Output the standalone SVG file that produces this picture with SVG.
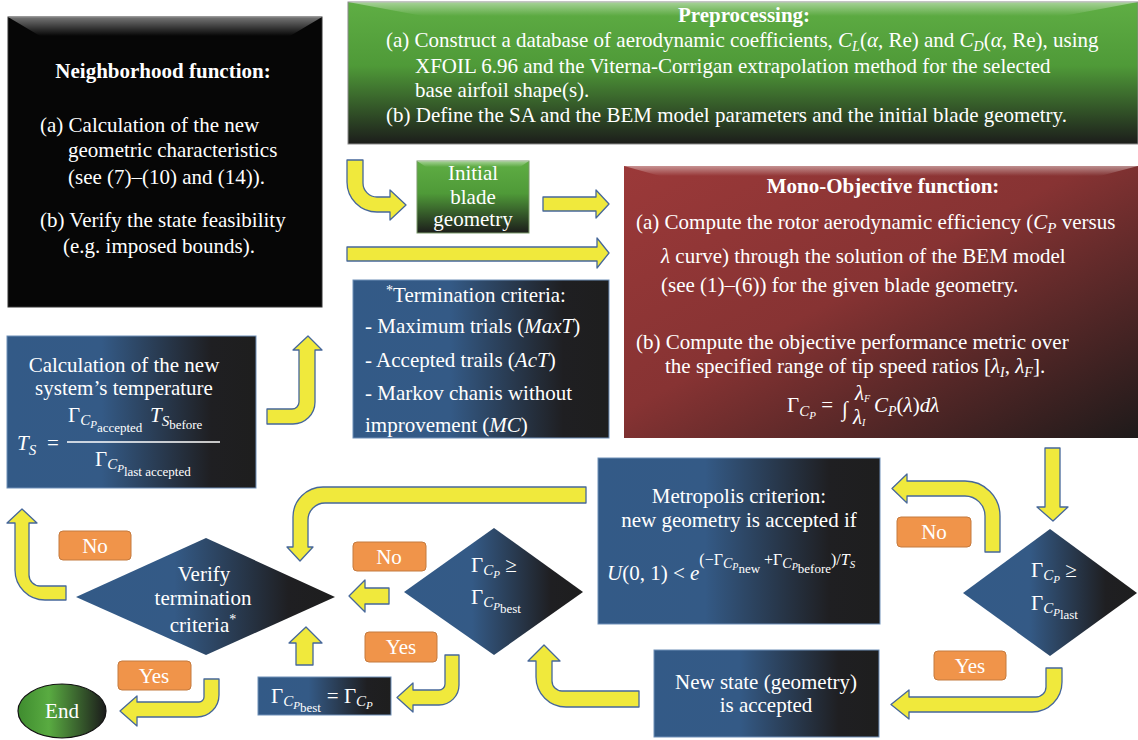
<svg xmlns="http://www.w3.org/2000/svg" width="1138" height="740" viewBox="0 0 1138 740">
<defs>
<style>
.t{font-family:"Liberation Serif","Times New Roman",serif;fill:#ffffff;font-size:21px}
.b{font-weight:bold}
.i{font-style:italic}
.m{text-anchor:middle}
.arrow{fill:#f0e93c;stroke:#46679a;stroke-width:1.3;stroke-linejoin:round}
.lbl{fill:#f0944a;stroke:#c47a3e;stroke-width:1}
.bbox{stroke:#6e8fb8;stroke-width:1}
</style>
<linearGradient id="gBlue" x1="0" y1="0" x2="1" y2="0">
<stop offset="0" stop-color="#335a87"/>
<stop offset="0.38" stop-color="#345a86"/>
<stop offset="0.82" stop-color="#1f1f22"/>
<stop offset="1" stop-color="#1e1e1e"/>
</linearGradient>
<linearGradient id="gGreen" x1="0" y1="0" x2="0" y2="1">
<stop offset="0" stop-color="#5fae44"/>
<stop offset="0.45" stop-color="#4f9a38"/>
<stop offset="1" stop-color="#1c1d1b"/>
</linearGradient>
<linearGradient id="gRed" x1="0" y1="0" x2="1" y2="1">
<stop offset="0" stop-color="#9b3939"/>
<stop offset="0.45" stop-color="#873333"/>
<stop offset="1" stop-color="#1e1a1a"/>
</linearGradient>
<linearGradient id="gEnd" x1="0" y1="0" x2="1" y2="0">
<stop offset="0" stop-color="#3f8c2f"/>
<stop offset="0.35" stop-color="#59ab41"/>
<stop offset="1" stop-color="#1b1b1b"/>
</linearGradient>
<linearGradient id="gBevel" x1="0" y1="0" x2="0" y2="1">
<stop offset="0" stop-color="#ffffff" stop-opacity="0.45"/>
<stop offset="1" stop-color="#ffffff" stop-opacity="0"/>
</linearGradient>
</defs>

<g id="neighborhood">
<rect x="8" y="17" width="314" height="290" fill="#060606" stroke="#333" stroke-width="1"/>
<polygon points="8,17 322,17 290,36 40,36" fill="url(#gBevel)"/>
<text class="t b m" x="163" y="78">Neighborhood function:</text>
<text class="t" x="40" y="132" font-size="20.5">(a) Calculation of the new</text>
<text class="t" x="68" y="157" font-size="20.5">geometric characteristics</text>
<text class="t" x="68" y="184" font-size="20.5">(see (7)–(10) and (14)).</text>
<text class="t" x="40" y="227" font-size="20.5">(b) Verify the state feasibility</text>
<text class="t" x="63" y="253" font-size="20.5">(e.g. imposed bounds).</text>
</g>

<g id="preprocessing">
<rect x="348" y="2" width="790" height="142" fill="url(#gGreen)" stroke="#8a8a8a" stroke-width="1"/>
<polygon points="348,2 1138,2 1063,16 423,16" fill="url(#gBevel)"/>
<text class="t b m" x="744" y="22" font-size="20">Preprocessing:</text>
<text class="t" x="386" y="47" font-size="20">(a) Construct a database of aerodynamic coefficients, <tspan class="i">C</tspan><tspan class="i" font-size="14" dy="4">L</tspan><tspan dy="-4">(</tspan><tspan class="i">α</tspan>, Re) and <tspan class="i">C</tspan><tspan class="i" font-size="14" dy="4">D</tspan><tspan dy="-4">(</tspan><tspan class="i">α</tspan>, Re), using</text>
<text class="t" x="415" y="73" font-size="20">XFOIL 6.96 and the Viterna-Corrigan extrapolation method for the selected</text>
<text class="t" x="415" y="97" font-size="20">base airfoil shape(s).</text>
<text class="t" x="386" y="122" font-size="20">(b) Define the SA and the BEM model parameters and the initial blade geometry.</text>
</g>

<g id="initial">
<rect x="417" y="161" width="112" height="72" fill="url(#gGreen)" stroke="#7a9a6a" stroke-width="1"/>
<polygon points="417,161 529,161 520,167 426,167" fill="url(#gBevel)"/>
<text class="t m" x="473" y="180">Initial</text>
<text class="t m" x="473" y="204">blade</text>
<text class="t m" x="473" y="226">geometry</text>
</g>

<g id="termination">
<rect class="bbox" x="353" y="280" width="256" height="158" fill="url(#gBlue)"/>
<text class="t m" x="476" y="302"><tspan font-size="14" dy="-7">*</tspan><tspan dy="7">Termination criteria:</tspan></text>
<text class="t" x="365" y="333">- Maximum trials (<tspan class="i">MaxT</tspan>)</text>
<text class="t" x="365" y="367">- Accepted trails (<tspan class="i">AcT</tspan>)</text>
<text class="t" x="365" y="400">- Markov chanis without</text>
<text class="t" x="365" y="432">improvement (<tspan class="i">MC</tspan>)</text>
</g>

<g id="monoobjective">
<rect x="624" y="166" width="514" height="272" fill="url(#gRed)"/>
<polygon points="624,166 1138,166 1100,176 660,176" fill="url(#gBevel)"/>
<text class="t b m" x="883" y="193">Mono-Objective function:</text>
<text class="t" x="636" y="229">(a) Compute the rotor aerodynamic efficiency (<tspan class="i">C</tspan><tspan class="i" font-size="15" dy="4">P</tspan><tspan dy="-4"> versus</tspan></text>
<text class="t" x="661" y="263"><tspan class="i">λ</tspan> curve) through the solution of the BEM model</text>
<text class="t" x="661" y="292">(see (1)–(6)) for the given blade geometry.</text>
<text class="t" x="636" y="349">(b) Compute the objective performance metric over</text>
<text class="t" x="665" y="373">the specified range of tip speed ratios [<tspan class="i">λ</tspan><tspan class="i" font-size="14" dy="4">I</tspan><tspan dy="-4">, </tspan><tspan class="i">λ</tspan><tspan class="i" font-size="14" dy="4">F</tspan><tspan dy="-4">].</tspan></text>
<text class="t" x="787" y="412">Γ<tspan class="i" font-size="15" dy="4">C</tspan><tspan class="i" font-size="11" dy="3">P</tspan><tspan dy="-7"> = </tspan></text>
<text class="t" x="842" y="416" font-size="26">∫</text>
<text class="t i" x="855" y="400" font-size="14">λ<tspan font-size="10" dy="2">F</tspan></text>
<text class="t i" x="853" y="424" font-size="14">λ<tspan font-size="10" dy="2">I</tspan></text>
<text class="t" x="874" y="412"><tspan class="i">C</tspan><tspan class="i" font-size="14" dy="4">P</tspan><tspan dy="-4">(</tspan><tspan class="i">λ</tspan>)<tspan class="i">dλ</tspan></text>
</g>

<g id="temperature">
<rect class="bbox" x="7" y="336" width="249" height="152" fill="url(#gBlue)"/>
<text class="t m" x="124" y="372">Calculation of the new</text>
<text class="t m" x="124" y="395">system’s temperature</text>
<text class="t i" x="17" y="450" font-size="23">T<tspan font-size="15" dy="5">S</tspan></text>
<text class="t" x="47" y="450" font-size="22">=</text>
<text class="t" x="68" y="422">Γ<tspan class="i" font-size="15" dy="3">C</tspan><tspan class="i" font-size="11" dy="3">P</tspan><tspan font-size="13" dy="4">accepted</tspan></text>
<text class="t i" x="150" y="422">T<tspan font-size="15" dy="4">S</tspan><tspan font-style="normal" font-size="13" dy="3">before</tspan></text>
<line x1="67" y1="442" x2="220" y2="442" stroke="#ffffff" stroke-width="1.6"/>
<text class="t" x="95" y="466">Γ<tspan class="i" font-size="15" dy="3">C</tspan><tspan class="i" font-size="11" dy="3">P</tspan><tspan font-size="13" dy="4">last accepted</tspan></text>
</g>

<g id="metropolis">
<rect class="bbox" x="598" y="458" width="282" height="166" fill="url(#gBlue)"/>
<text class="t m" x="739" y="503">Metropolis criterion:</text>
<text class="t m" x="739" y="527">new geometry is accepted if</text>
<text class="t" x="607" y="580" font-size="22"><tspan class="i">U</tspan>(0, 1) &lt; <tspan class="i">e</tspan><tspan font-size="16" dy="-15">(−Γ</tspan><tspan class="i" font-size="14" dy="3">C</tspan><tspan class="i" font-size="10" dy="2">P</tspan><tspan font-size="13" dy="3">new</tspan><tspan font-size="16" dy="-8"> +Γ</tspan><tspan class="i" font-size="14" dy="3">C</tspan><tspan class="i" font-size="10" dy="2">P</tspan><tspan font-size="13" dy="3">before</tspan><tspan font-size="16" dy="-8">)/</tspan><tspan class="i" font-size="16">T</tspan><tspan class="i" font-size="11" dy="3">S</tspan></text>
</g>

<g id="lastcheck">
<polygon points="963,593 1050,529 1137,593 1050,656" fill="url(#gBlue)"/>
<text class="t" x="1031" y="577">Γ<tspan class="i" font-size="15" dy="3">C</tspan><tspan class="i" font-size="11" dy="3">P</tspan><tspan dy="-6"> ≥</tspan></text>
<text class="t" x="1031" y="610">Γ<tspan class="i" font-size="15" dy="3">C</tspan><tspan class="i" font-size="11" dy="3">P</tspan><tspan font-size="13" dy="3">last</tspan></text>
</g>

<g id="newstate">
<rect class="bbox" x="654" y="650" width="225" height="87" fill="url(#gBlue)"/>
<text class="t m" x="766" y="689">New state (geometry)</text>
<text class="t m" x="766" y="712">is accepted</text>
</g>

<g id="bestcheck">
<polygon points="404,592 494,528 583,592 494,655" fill="url(#gBlue)"/>
<text class="t" x="471" y="572">Γ<tspan class="i" font-size="15" dy="3">C</tspan><tspan class="i" font-size="11" dy="3">P</tspan><tspan dy="-6"> ≥</tspan></text>
<text class="t" x="471" y="604">Γ<tspan class="i" font-size="15" dy="3">C</tspan><tspan class="i" font-size="11" dy="3">P</tspan><tspan font-size="13" dy="3">best</tspan></text>
</g>

<g id="bestupdate">
<rect class="bbox" x="258" y="677" width="133" height="38" fill="url(#gBlue)"/>
<text class="t" x="271" y="703">Γ<tspan class="i" font-size="15" dy="3">C</tspan><tspan class="i" font-size="11" dy="3">P</tspan><tspan font-size="13" dy="3">best</tspan><tspan dy="-9" dx="6">= Γ</tspan><tspan class="i" font-size="15" dy="3">C</tspan><tspan class="i" font-size="11" dy="3">P</tspan></text>
</g>

<g id="verify">
<polygon points="76,597 206,538 335,597 206,655" fill="url(#gBlue)"/>
<text class="t m" x="204" y="581">Verify</text>
<text class="t m" x="203" y="605">termination</text>
<text class="t m" x="203" y="632">criteria<tspan font-size="14" dy="-8">*</tspan></text>
</g>

<g id="end">
<ellipse cx="62" cy="711" rx="44" ry="27" fill="url(#gEnd)" stroke="#111" stroke-width="1.2"/>
<text class="t m" x="62" y="718">End</text>
</g>

<g id="labels">
<rect class="lbl" x="59" y="531" width="72" height="29" rx="4"/>
<text class="t m" x="95" y="553">No</text>
<rect class="lbl" x="118" y="661" width="73" height="29" rx="4"/>
<text class="t m" x="154" y="683">Yes</text>
<rect class="lbl" x="353" y="542" width="73" height="29" rx="4"/>
<text class="t m" x="389" y="564">No</text>
<rect class="lbl" x="365" y="632" width="72" height="30" rx="4"/>
<text class="t m" x="401" y="654">Yes</text>
<rect class="lbl" x="897" y="517" width="74" height="30" rx="4"/>
<text class="t m" x="934" y="539">No</text>
<rect class="lbl" x="934" y="651" width="72" height="29" rx="4"/>
<text class="t m" x="970" y="673">Yes</text>
</g>

<g id="connectors">
<path class="arrow" d="M347,160 V182 A30,30 0 0 0 377,212 H390 V220 L406,205 L390,190 V197 H377 A14,14 0 0 1 363,183 V160 Z"/>
<path class="arrow" d="M543,197 H596 V190 L609,204 L596,218 V211 H543 Z"/>
<path class="arrow" d="M347,247 H597 V238 L609,253 L597,268 V261 H347 Z"/>
<path class="arrow" d="M267,409 H292 A7,7 0 0 0 299,402 V350 H293 L308,336 L322,350 H315 V402 A22,22 0 0 1 293,424 H267 Z"/>
<path class="arrow" d="M66,586 H40 A11,11 0 0 1 29,575 V523 H37 L22,509 L7,523 H15 V570 A30,30 0 0 0 45,600 H66 Z"/>
<path class="arrow" d="M204,679 H219 V695 A22,22 0 0 1 197,717 H137 V726 L120,711 L137,696 V702 H199 A5,5 0 0 0 204,697 Z"/>
<path class="arrow" d="M296,665 V643 H289 L306,627 L322,643 H313 V665 Z"/>
<path class="arrow" d="M389,588 V604 H365 V612 L349,596 L365,580 V588 Z"/>
<path class="arrow" d="M445,655 H459 V685 A20,20 0 0 1 439,705 H413 V712 L397,697.5 L413,683 V690 H439 A6,6 0 0 0 445,684 Z"/>
<path class="arrow" d="M586,487 V503 H325 A17,17 0 0 0 308,520 V547 H313 L300,561 L287,547 H293 V517 A30,30 0 0 1 323,487 Z"/>
<path class="arrow" d="M1000,552 H985 V516 A20,20 0 0 0 965,496 H907 V503 L892,488.5 L907,474 V481 H965 A35,35 0 0 1 1000,516 Z"/>
<path class="arrow" d="M1045,448 H1060 V507 H1068 L1053,521 L1037,507 H1045 Z"/>
<path class="arrow" d="M1046,668 H1062 V682 A30,30 0 0 1 1032,712 H909 V719 L891,704.5 L909,690 V697 H1036 A10,10 0 0 0 1046,687 Z"/>
<path class="arrow" d="M639,691 V707 H566 A30,30 0 0 1 536,677 V661 H528 L544,645 L560,661 H552 V681 A10,10 0 0 0 562,691 Z"/>
</g>
</svg>
